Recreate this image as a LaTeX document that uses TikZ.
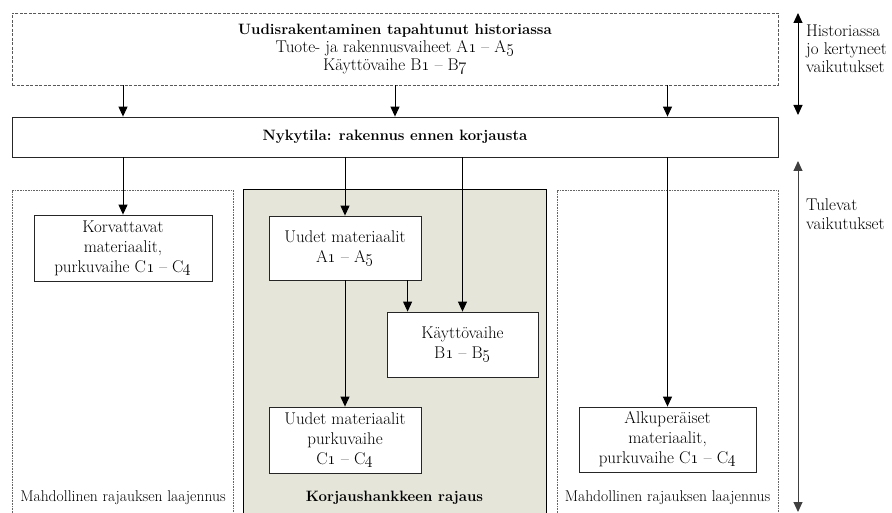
\documentclass[tikz,border=0pt]{standalone}
\usepackage{xcolor}
\usetikzlibrary{arrows.meta, positioning}
\definecolor{rajausfill}{RGB}{229,229,218}
\newcommand{\nr}[1]{\oldstylenums{#1}}

\begin{document}
\begin{tikzpicture}[x=1pt, y=-1pt,
		every node/.style={font=\fontsize{17}{20}\selectfont},
		box/.style={draw=black!85, fill=white, align=center, inner sep=0pt, line width=0.8pt},
		histbox/.style={box, draw=black!65, dash pattern=on 3pt off 1.5pt, font=\fontsize{17}{18}\selectfont},
		region/.style={draw=black!60, dash pattern=on 1pt off 0.6pt, line width=0.7pt, inner sep=0pt},
		arr/.style={-{Triangle[width=9pt,length=10pt]}, line width=1pt},
		darr/.style={{Triangle[width=9pt,length=10pt]}-{Triangle[width=9pt,length=10pt]}, line width=1pt},
		side/.style={align=left, anchor=west, inner sep=0pt},
		small/.style={font=\fontsize{15.6}{17}\selectfont},
		bold/.style={font=\fontsize{15}{18}\selectfont\bfseries}]
	
	\useasboundingbox (0,0) rectangle (892,513);
	\clip (0,0) rectangle (892,513);
	
	% rajaukset
	\node[region, minimum width=221, minimum height=330] (laajL) at (122.5,355) {};
	\node[region, draw=black, solid, line width=1pt, fill=rajausfill, minimum width=303, minimum height=330] (rajaus) at (394.5,355) {};
	\node[region, minimum width=221, minimum height=330] (laajR) at (667.5,355) {};
	
	\node[small] (laajLtxt) at (123,498) {Mahdollinen rajauksen laajennus};
	\node[bold] (rajaustxt) at (394.5,498) {Korjaushankkeen rajaus};
	\node[small] (laajRtxt) at (667.5,498) {Mahdollinen rajauksen laajennus};
	
	% historia ja nykytila
	\node[histbox, minimum width=766, minimum height=72] (hist) at (395,49)
		{{\fontsize{15}{18}\selectfont\bfseries Uudisrakentaminen tapahtunut historiassa}\\
		 Tuote- ja rakennusvaiheet A\nr{1} -- A\nr{5}\\
		 Käyttövaihe B\nr{1} -- B\nr{7}};
	\node[box, bold, minimum width=766, minimum height=40] (nyky) at (395,137)
		{Nykytila: rakennus ennen korjausta};
	
	% vaiheet
	\node[box, minimum width=178, minimum height=66] (korv) at (123,248)
		{Korvattavat\\materiaalit,\\purkuvaihe C\nr{1} -- C\nr{4}};
	\node[box, minimum width=152, minimum height=64] (uudet) at (345,248)
		{Uudet materiaalit\\A\nr{1} -- A\nr{5}};
	\node[box, minimum width=151, minimum height=65] (kaytto) at (462.5,344.5)
		{Käyttövaihe\\B\nr{1} -- B\nr{5}};
	\node[box, minimum width=152, minimum height=66] (purku) at (345,440)
		{Uudet materiaalit\\purkuvaihe\\C\nr{1} -- C\nr{4}};
	\node[box, minimum width=177, minimum height=65] (alku) at (667.5,439.5)
		{Alkuperäiset\\materiaalit,\\purkuvaihe C\nr{1} -- C\nr{4}};
	
	\coordinate (kin) at ([xshift=21]kaytto.north west);
	
	\draw[arr] (hist.south -| korv) -- (nyky.north -| korv);
	\draw[arr] (hist.south) -- (nyky.north);
	\draw[arr] (hist.south -| alku) -- (nyky.north -| alku);
	
	\draw[arr] (nyky.south -| korv) -- (korv.north);
	\draw[arr] (nyky.south -| uudet) -- (uudet.north);
	\draw[arr] (nyky.south -| kaytto) -- (kaytto.north);
	\draw[arr] (nyky.south -| alku) -- (alku.north);
	\draw[arr] (uudet.south -| kin) -- (kin);
	\draw[arr] (uudet.south) -- (purku.north);
	
	% vaikutukset
	\coordinate (h1) at (798,13);
	\coordinate (h2) at (798,115);
	\coordinate (t1) at (798,161);
	\coordinate (t2) at (798,512);
	\draw[darr] (h1) -- (h2);
	\draw[darr, draw=black!75] (t1) -- (t2);
	
	\node[side, font=\fontsize{17}{18}\selectfont] (histlbl) at (806,49)
		{Historiassa\\jo kertyneet\\vaikutukset};
	\node[side, font=\fontsize{17}{19}\selectfont] (tullbl) at (806,214)
		{Tulevat\\vaikutukset};
\end{tikzpicture}
\end{document}
